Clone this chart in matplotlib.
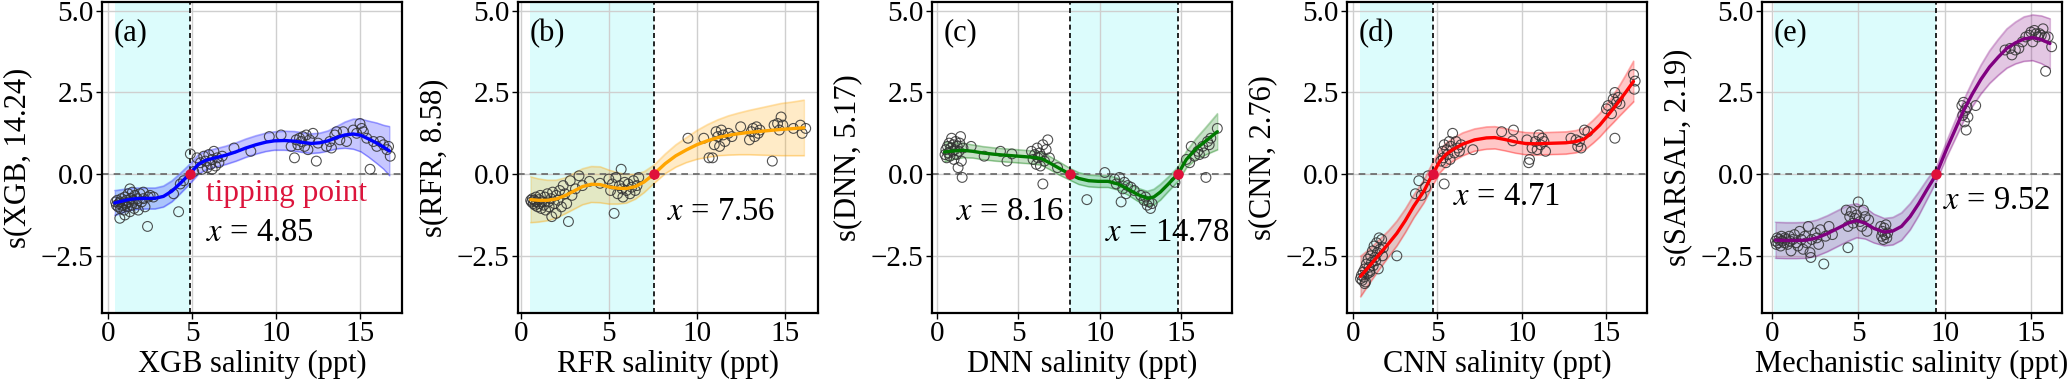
import numpy as np
import matplotlib
matplotlib.use("Agg")
import matplotlib.pyplot as plt

plt.rcParams['font.family'] = ['Liberation Serif', 'DejaVu Serif']
plt.rcParams['mathtext.fontset'] = 'stix'

# ---- panel (a) XGB ----
xa_fit = [0.40, 0.8, 1.2, 1.62, 2.2, 2.8, 3.3, 3.8, 4.3, 4.85, 5.37, 5.8, 6.3, 7.0, 7.6, 8.2, 8.8,
          9.4, 9.9, 10.5, 11.1, 11.6, 12.1, 12.6, 13.1, 13.6, 14.1, 14.6, 15.05, 15.5, 16.0, 16.4, 16.75]
ya_fit = [-0.88, -0.83, -0.78, -0.75, -0.74, -0.74, -0.68, -0.52, -0.28, 0.0, 0.30, 0.42, 0.49, 0.58,
          0.68, 0.80, 0.90, 0.98, 1.02, 1.03, 1.01, 0.97, 0.94, 0.96, 1.02, 1.12, 1.20, 1.23, 1.19,
          1.08, 0.95, 0.83, 0.71]
ea_fit = [0.38, 0.36, 0.34, 0.33, 0.32, 0.32, 0.32, 0.32, 0.31, 0.30, 0.30, 0.29, 0.28, 0.28, 0.28,
          0.28, 0.28, 0.28, 0.28, 0.29, 0.30, 0.30, 0.30, 0.30, 0.31, 0.34, 0.40, 0.46, 0.50, 0.55,
          0.62, 0.67, 0.75]
xa_pts = [0.45, 0.5, 0.55, 0.6, 0.65, 0.7, 0.75, 0.8, 0.85, 0.9, 0.95, 1.0, 1.05, 1.1, 1.15, 1.2,
          1.25, 1.3, 1.35, 1.4, 1.45, 1.5, 1.55, 1.6, 1.7, 1.75, 1.8, 0.7, 1.0, 1.3, 1.9, 2.0, 2.1,
          2.2, 2.35, 2.4, 2.5, 2.7, 2.1, 3.9, 4.2, 4.3, 4.5, 4.9, 5.1, 5.3, 5.5, 5.7, 5.8, 5.9, 6.0,
          6.1, 6.2, 6.3, 6.4, 6.5, 6.6, 6.8, 5.6, 6.2, 7.5, 8.5, 9.6, 10.3, 10.9, 11.1, 11.2, 11.3,
          11.4, 11.5, 11.6, 11.7, 11.8, 11.9, 12.0, 12.2, 12.4, 12.5, 13.0, 13.2, 13.3, 13.5, 13.6,
          13.8, 14.0, 14.2, 14.6, 14.8, 15.0, 15.1, 15.2, 15.4, 15.6, 15.8, 16.0, 16.2, 16.4, 16.6,
          16.8, 16.7]
ya_pts = [-0.85, -0.95, -0.8, -1.0, -0.9, -0.85, -1.05, -0.75, -0.95, -0.88, -1.1, -0.7, -0.92,
          -0.8, -1.0, -0.6, -0.85, -1.15, -0.75, -0.95, -0.55, -0.8, -1.05, -0.65, -0.9, -0.75, -1.1,
          -1.35, -1.25, -0.45, -0.6, -0.85, -0.75, -1.0, -1.6, -0.7, -0.65, -0.7, -0.55, -0.6, -1.15,
          -0.3, -0.2, 0.62, 0.08, 0.5, 0.35, 0.55, 0.4, 0.2, 0.6, 0.3, 0.45, 0.7, 0.25, 0.5, 0.35,
          0.55, 0.15, 0.15, 0.8, 0.7, 1.15, 1.2, 0.85, 0.5, 1.05, 0.9, 1.1, 1.0, 1.15, 0.85, 1.2,
          0.75, 1.05, 1.25, 0.4, 0.95, 0.85, 1.0, 0.8, 1.2, 1.3, 1.05, 1.3, 1.0, 1.35, 1.25, 1.55,
          1.4, 1.3, 1.1, 0.15, 1.0, 0.85, 1.0, 0.9, 0.75, 0.55, 0.85]

# ---- panel (b) RFR ----
xb_fit = [0.55, 1.0, 1.5, 2.0, 2.5, 3.0, 3.5, 4.0, 4.5, 5.0, 5.5, 6.0, 6.5, 7.0, 7.56, 8.2, 8.8,
          9.4, 10.0, 10.6, 11.2, 11.8, 12.4, 13.0, 13.6, 14.2, 14.8, 15.4, 16.1]
yb_fit = [-0.78, -0.80, -0.80, -0.76, -0.66, -0.52, -0.38, -0.31, -0.32, -0.39, -0.43, -0.44, -0.38,
          -0.24, 0.0, 0.32, 0.56, 0.74, 0.90, 1.02, 1.12, 1.19, 1.24, 1.28, 1.31, 1.34, 1.37, 1.39,
          1.42]
eb_fit = [0.70, 0.66, 0.62, 0.58, 0.55, 0.55, 0.55, 0.55, 0.55, 0.52, 0.48, 0.44, 0.38, 0.32, 0.28,
          0.30, 0.34, 0.38, 0.44, 0.50, 0.55, 0.60, 0.64, 0.68, 0.72, 0.76, 0.80, 0.82, 0.85]
xb_pts = [0.55, 0.6, 0.65, 0.7, 0.75, 0.8, 0.85, 0.9, 0.95, 1.0, 1.05, 1.1, 1.15, 1.2, 1.3, 1.35,
          1.4, 1.5, 1.55, 1.6, 1.7, 1.75, 1.8, 1.9, 2.0, 2.0, 2.1, 2.2, 2.3, 2.4, 2.5, 2.6, 2.7, 2.8,
          2.9, 3.1, 3.3, 3.5, 3.9, 4.5, 5.0, 5.1, 5.2, 5.3, 5.4, 5.5, 5.6, 5.7, 5.75, 5.8, 5.9, 6.0,
          6.1, 6.2, 6.3, 6.4, 6.5, 6.6, 6.7, 9.5, 10.4, 10.7, 10.9, 11.0, 11.1, 11.2, 11.3, 11.4,
          11.5, 11.6, 11.8, 12.0, 12.5, 13.0, 13.1, 13.2, 13.3, 13.4, 13.5, 13.6, 14.3, 14.4, 14.6,
          14.7, 14.8, 14.9, 15.5, 15.9, 16.0, 16.2]
yb_pts = [-0.8, -0.85, -0.75, -0.9, -0.8, -0.95, -0.7, -0.85, -1.0, -0.78, -0.9, -0.65, -1.05,
          -0.85, -0.95, -0.7, -1.1, -0.6, -0.85, -1.0, -0.75, -1.3, -0.55, -0.9, -0.65, -1.2, -0.8,
          -0.5, -1.0, -0.35, -0.6, -0.9, -1.45, -0.2, -0.65, -0.45, -0.05, -0.35, -0.22, -0.28,
          -0.15, -0.5, -0.3, -1.2, -0.1, -0.6, -0.35, 0.15, -0.45, -0.7, -0.25, -0.5, -0.3, -0.6,
          -0.4, -0.2, -0.5, -0.35, -0.1, 1.1, 1.1, 0.5, 0.5, 0.9, 1.3, 1.15, 0.85, 1.35, 1.2, 1.0,
          1.25, 1.15, 1.45, 1.05, 1.3, 1.4, 1.15, 1.45, 1.25, 1.35, 0.4, 1.5, 1.55, 1.35, 1.75, 1.5,
          1.4, 1.5, 1.25, 1.4]

# ---- panel (c) DNN ----
xc_fit = [0.47, 1.0, 1.6, 2.2, 2.8, 3.5, 4.2, 5.0, 5.8, 6.4, 6.9, 7.5, 8.16, 8.7, 9.3, 9.9, 10.5,
          11.1, 11.7, 12.3, 12.9, 13.3, 13.7, 14.2, 14.78, 15.3, 15.9, 16.5, 17.2]
yc_fit = [0.68, 0.71, 0.73, 0.70, 0.65, 0.61, 0.58, 0.55, 0.52, 0.48, 0.35, 0.18, 0.0, -0.13,
          -0.20, -0.22, -0.22, -0.30, -0.45, -0.62, -0.74, -0.70, -0.55, -0.30, 0.0, 0.45, 0.78,
          1.02, 1.30]
ec_fit = [0.30, 0.25, 0.22, 0.20, 0.20, 0.20, 0.20, 0.20, 0.20, 0.20, 0.20, 0.20, 0.18, 0.18, 0.18,
          0.18, 0.18, 0.18, 0.18, 0.20, 0.22, 0.24, 0.24, 0.22, 0.22, 0.25, 0.32, 0.42, 0.55]
xc_pts = [0.5, 0.55, 0.6, 0.65, 0.7, 0.75, 0.8, 0.85, 0.9, 0.95, 1.0, 1.05, 1.1, 1.15, 1.2, 1.25,
          1.3, 1.35, 1.4, 1.45, 1.5, 1.55, 1.6, 2.1, 2.9, 3.9, 4.3, 4.6, 5.8, 5.9, 6.0, 6.1, 6.15,
          6.2, 6.3, 6.35, 6.4, 6.5, 6.5, 6.6, 6.7, 6.8, 6.9, 7.4, 9.2, 10.3, 10.9, 11.0, 11.2, 11.3,
          11.4, 11.5, 11.6, 11.7, 11.9, 12.1, 12.5, 12.7, 12.8, 12.9, 13.0, 13.1, 13.2, 14.6, 15.3,
          15.5, 15.6, 15.8, 16.0, 16.1, 16.3, 16.4, 16.5, 16.6, 16.7, 16.8, 17.2]
yc_pts = [0.6, 0.75, 0.5, 0.85, 0.65, 0.95, 0.55, 0.8, 1.1, 0.7, 0.9, 0.45, 0.75, 1.0, 0.6, 0.85,
          0.2, 0.7, 0.95, 1.15, 0.4, -0.1, 0.8, 0.85, 0.55, 0.7, 0.4, 0.62, 0.7, 0.45, 0.6, 0.3,
          0.8, 0.5, 0.65, 0.25, 0.55, 0.9, -0.3, 0.4, 0.75, 1.05, 0.5, 0.2, -0.78, 0.05, -0.15,
          -0.3, -0.1, -0.85, -0.45, -0.25, -0.6, -0.35, -0.4, -0.5, -0.65, -0.8, -0.7, -0.95, -0.85,
          -1.05, -0.9, -0.25, 0.45, 0.35, 0.85, 0.55, 0.7, 0.6, 0.85, 0.65, -0.1, 1.0, 0.9, 1.1,
          1.4]

# ---- panel (d) CNN ----
xd_fit = [0.45, 1.0, 1.6, 2.1, 2.6, 3.1, 3.6, 4.2, 4.71, 5.15, 5.5, 5.9, 6.5, 7.2, 7.9, 8.4, 9.0,
          9.6, 10.2, 10.8, 11.4, 12.0, 12.6, 13.2, 13.7, 14.2, 14.6, 15.0, 15.4, 15.8, 16.2, 16.6]
yd_fit = [-3.13, -2.80, -2.43, -2.13, -1.81, -1.42, -0.98, -0.52, 0.0, 0.40, 0.60, 0.75, 0.92,
          1.05, 1.11, 1.12, 1.06, 0.99, 0.94, 0.93, 0.94, 0.95, 0.96, 1.00, 1.08, 1.30, 1.50, 1.75,
          2.00, 2.27, 2.55, 2.84]
ed_fit = [0.62, 0.52, 0.45, 0.40, 0.38, 0.36, 0.35, 0.35, 0.35, 0.35, 0.35, 0.35, 0.35, 0.34, 0.34,
          0.34, 0.34, 0.34, 0.34, 0.34, 0.34, 0.34, 0.34, 0.34, 0.34, 0.35, 0.36, 0.38, 0.42, 0.47,
          0.54, 0.62]
xd_pts = [0.45, 0.5, 0.55, 0.6, 0.65, 0.7, 0.75, 0.8, 0.85, 0.9, 0.95, 1.0, 1.05, 1.1, 1.15, 1.2,
          1.25, 1.3, 1.35, 1.4, 1.45, 1.5, 1.55, 1.6, 1.7, 1.75, 1.8, 0.7, 1.0, 2.6, 3.7, 3.9, 4.05,
          4.3, 4.45, 5.4, 5.2, 5.3, 5.35, 5.4, 5.5, 5.55, 5.6, 5.7, 5.75, 5.8, 5.9, 6.0, 6.1, 6.2,
          6.3, 6.4, 7.1, 8.8, 9.5, 9.45, 10.3, 10.4, 10.45, 10.6, 10.8, 10.9, 11.0, 11.1, 11.2,
          11.3, 11.4, 12.9, 13.2, 13.3, 13.4, 13.5, 13.7, 13.9, 15.0, 15.1, 15.3, 15.4, 15.5, 15.5,
          15.6, 15.7, 15.8, 16.6, 16.65, 16.7]
yd_pts = [-3.2, -3.1, -3.25, -3.0, -3.15, -2.9, -3.3, -2.75, -3.05, -2.6, -2.85, -2.95, -2.5, -2.7,
          -2.35, -2.8, -2.2, -2.55, -2.65, -2.1, -2.4, -2.9, -1.95, -2.3, -2.0, -2.5, -2.25, -3.35,
          -3.0, -2.5, -0.6, -0.2, -0.65, -0.4, -0.05, -0.3, 0.4, 0.7, 0.5, 0.9, 0.35, 0.75, 0.6,
          1.0, 0.45, 0.85, 1.25, 0.65, 1.0, 0.8, 0.7, 0.9, 0.75, 1.3, 1.35, 1.02, 1.05, 0.35, 0.45,
          0.8, 1.0, 0.75, 1.2, 0.9, 1.1, 1.0, 0.7, 1.1, 1.05, 0.85, 1.0, 0.8, 1.35, 1.3, 2.0, 2.1,
          1.85, 2.3, 2.5, 1.1, 2.2, 2.35, 2.15, 3.05, 2.6, 2.85]

# ---- panel (e) SARSAL ----
xe_fit = [0.2, 0.8, 1.4, 2.0, 2.6, 3.2, 3.8, 4.4, 4.9, 5.4, 5.9, 6.5, 7.0, 7.5, 8.0, 8.5, 9.0,
          9.52, 10.1, 10.6, 11.1, 11.6, 12.1, 12.6, 13.1, 13.6, 14.1, 14.6, 15.1, 15.6, 16.1]
ye_fit = [-2.02, -2.03, -2.03, -2.02, -1.95, -1.82, -1.66, -1.50, -1.42, -1.50, -1.66, -1.77,
          -1.74, -1.60, -1.30, -0.90, -0.45, 0.0, 0.75, 1.35, 1.95, 2.45, 2.90, 3.28, 3.58, 3.85,
          4.02, 4.14, 4.18, 4.12, 4.00]
ee_fit = [0.55, 0.55, 0.55, 0.55, 0.55, 0.55, 0.55, 0.55, 0.52, 0.48, 0.44, 0.42, 0.42, 0.42, 0.40,
          0.36, 0.30, 0.22, 0.24, 0.28, 0.32, 0.38, 0.44, 0.50, 0.55, 0.60, 0.64, 0.68, 0.70, 0.73,
          0.76]
xe_pts = [0.2, 0.25, 0.3, 0.35, 0.4, 0.5, 0.55, 0.6, 0.7, 0.75, 0.8, 0.9, 1.0, 1.05, 1.1, 1.2, 1.3,
          1.4, 1.5, 1.6, 1.7, 1.8, 1.9, 2.0, 2.1, 2.2, 2.25, 2.3, 2.5, 2.6, 2.7, 2.8, 3.0, 3.1, 3.3,
          3.5, 4.4, 4.3, 4.4, 4.5, 4.6, 4.7, 4.8, 4.9, 5.0, 5.1, 5.2, 5.4, 5.5, 5.6, 5.3, 6.3, 6.35,
          6.4, 6.45, 6.5, 6.55, 6.6, 6.65, 6.7, 11.0, 11.05, 11.1, 11.15, 11.2, 11.25, 11.3, 11.35,
          11.8, 13.5, 13.8, 13.9, 14.1, 14.3, 14.5, 14.7, 14.9, 15.0, 15.1, 15.2, 15.3, 15.4, 15.5,
          15.6, 15.7, 15.8, 15.85, 16.0, 16.2]
ye_pts = [-2.05, -2.15, -1.95, -2.1, -2.0, -2.2, -1.9, -2.05, -2.1, -1.95, -2.0, -2.15, -1.9,
          -2.05, -2.35, -2.0, -1.85, -2.1, -2.2, -1.75, -2.0, -2.3, -1.9, -2.1, -1.6, -2.4, -2.55,
          -2.0, -1.8, -1.95, -2.15, -1.7, -2.75, -1.9, -1.6, -1.85, -2.25, -1.1, -1.6, -1.3, -1.15,
          -1.5, -1.35, -1.25, -0.85, -1.45, -1.6, -1.3, -1.75, -1.4, -1.1, -1.6, -1.9, -1.75, -2.0,
          -1.65, -1.85, -1.55, -1.95, -1.8, 2.1, 1.8, 2.2, 1.6, 1.95, 1.35, 2.05, 1.75, 2.1, 3.8,
          3.85, 3.65, 3.8, 3.85, 4.05, 4.2, 4.25, 4.35, 4.05, 4.4, 4.3, 4.2, 4.3, 4.25, 4.45, 4.2,
          3.15, 4.2, 3.9]

panel_tags = ['(a)', '(b)', '(c)', '(d)', '(e)']
xlabels = ['XGB salinity (ppt)', 'RFR salinity (ppt)', 'DNN salinity (ppt)',
           'CNN salinity (ppt)', 'Mechanistic salinity (ppt)']
ylabels = ['s(XGB, 14.24)', 's(RFR, 8.58)', 's(DNN, 5.17)', 's(CNN, 2.76)', 's(SARSAL, 2.19)']
tipping = [[4.85], [7.56], [8.16, 14.78], [4.71], [9.52]]
shade = [(0.4, 4.85), (0.5, 7.56), (8.16, 14.78), (0.41, 4.71), (0.12, 9.52)]
tip_text_pos = [[(5.85, -1.8)], [(8.3, -1.15)], [(1.2, -1.15), (10.3, -1.8)], [(5.9, -0.7)],
                [(9.9, -0.8)]]
xlims = [(-0.36, 17.5), (-0.17, 16.9), (-0.3, 18.1), (-0.35, 17.4), (-0.58, 16.8)]
colors = ['#0000ff', '#ffa500', '#007a00', '#ff0000', '#800080']
fits = [(xa_fit, ya_fit, ea_fit), (xb_fit, yb_fit, eb_fit), (xc_fit, yc_fit, ec_fit),
        (xd_fit, yd_fit, ed_fit), (xe_fit, ye_fit, ee_fit)]
pts = [(xa_pts, ya_pts), (xb_pts, yb_pts), (xc_pts, yc_pts), (xd_pts, yd_pts), (xe_pts, ye_pts)]
lefts = [102, 518, 932, 1347, 1762]

W, H = 2067, 386
fig = plt.figure(figsize=(W / 100, H / 100), dpi=100)

for i in range(5):
    ax = fig.add_axes([lefts[i] / W, 1 - 313 / H, 300 / W, 311 / H])
    ax.set_axisbelow(True)
    ax.grid(True, color='#cfcfcf', lw=1.0, zorder=0.5)
    ax.axvspan(shade[i][0], shade[i][1], color='#dcfcfc', lw=0, zorder=0.2)

    xf, yf, ef = [np.array(v) for v in fits[i]]
    ax.fill_between(xf, yf - ef, yf + ef, color=colors[i], alpha=0.22, lw=1.0, zorder=2)
    ax.plot(xf, yf - ef, color=colors[i], alpha=0.25, lw=1.0, zorder=2)
    ax.plot(xf, yf + ef, color=colors[i], alpha=0.25, lw=1.0, zorder=2)
    ax.scatter(pts[i][0], pts[i][1], s=50, facecolors='none', edgecolors='#333333',
               linewidths=0.8, alpha=0.85, zorder=3)
    ax.plot(xf, yf, color=colors[i], lw=2.4, zorder=4, solid_capstyle='round')

    ax.axhline(0, color='#666666', ls='--', lw=1.2, dashes=(4, 3), zorder=2.5)
    for tp, (tx, ty) in zip(tipping[i], tip_text_pos[i]):
        ax.axvline(tp, color='black', ls='--', lw=1.2, dashes=(3, 2), zorder=2.6)
        ax.plot([tp], [0], 'o', color='#e0103a', ms=6.5, zorder=5)
        ax.text(tx, ty, '$x$ = %.2f' % tp, fontsize=23.5, va='center', ha='left', zorder=6)
    if i == 0:
        ax.text(5.85, -0.58, 'tipping point', color='#dc143c', fontsize=22.5, va='center',
                ha='left', zorder=6)

    ax.text(0.04, 0.9, panel_tags[i], transform=ax.transAxes, fontsize=22, va='center', ha='left')
    ax.set_xlim(*xlims[i])
    ax.set_ylim(-4.25, 5.27)
    ax.set_xticks([0, 5, 10, 15])
    ax.set_yticks([-2.5, 0.0, 2.5, 5.0])
    ax.set_yticklabels(['\u22122.5', '0.0', '2.5', '5.0'])
    ax.tick_params(direction='out', length=4, width=1, labelsize=21, pad=2)
    for sp in ax.spines.values():
        sp.set_linewidth(1.6)
    ax.set_xlabel(xlabels[i], fontsize=22, labelpad=2)
    ax.set_ylabel(ylabels[i], fontsize=22, labelpad=6)

fig.savefig('out.png', dpi=100)
